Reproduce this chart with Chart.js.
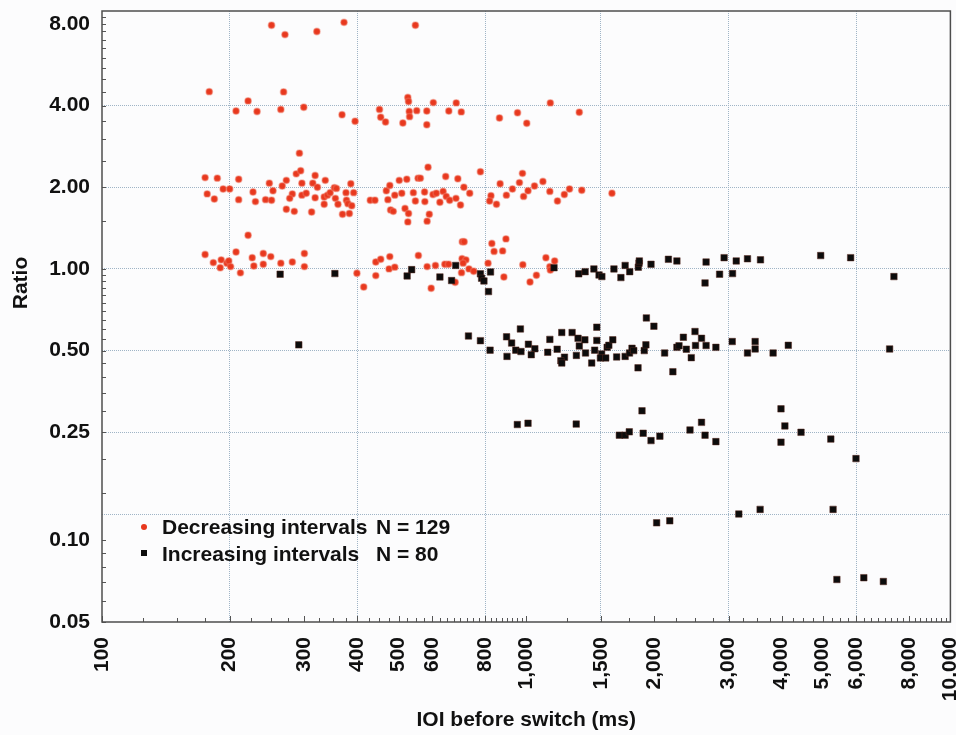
<!DOCTYPE html>
<html>
<head>
<meta charset="utf-8">
<script src="https://cdn.jsdelivr.net/npm/chart.js@4.4.1/dist/chart.umd.min.js"></script>
<style>
  html, body { margin: 0; padding: 0; background: #fcfcfd; }
  #wrap { width: 956px; height: 735px; }
</style>
</head>
<body>
<div id="wrap"><canvas id="chart" width="956" height="735"></canvas></div>
<script>
// IOI before switch (ms) / ratio
const decX = [
  251, 270, 321, 372, 548,
  179, 221, 268, 207, 232, 264, 299, 368, 395, 451, 454, 466, 512, 526, 528,
  530, 531, 552, 583, 583, 604, 657, 684, 703, 865, 954, 1003, 1140, 1334,
  292, 287, 294, 318, 175, 187, 210, 248, 272, 296, 314, 266, 193, 200, 177,
  184, 210, 227, 230, 243, 251, 253, 281, 277, 296, 303, 318, 322, 272, 284,
  312, 221,
  336, 334, 334, 340, 345, 353, 357, 355, 360, 369, 376, 377, 380, 383, 386,
  388, 392, 429, 440, 468, 472, 477, 479, 486, 490, 502, 509, 518, 523, 526,
  528, 542, 548, 556, 563, 576, 577, 587, 591, 584, 603, 614, 626, 637, 646,
  648, 660, 683, 690, 700, 713, 736, 780, 826, 820, 851, 868, 898, 928, 964,
  980, 986, 1010, 1046, 1095, 1137, 1185, 1230, 1265, 1352, 1593,
  175, 183, 191, 190, 197, 199, 201, 207, 212, 226, 228, 240, 240, 250, 264,
  281, 300, 300,
  399, 414, 442, 454, 442, 477, 475, 490, 557, 584, 597, 611, 643, 656, 680,
  707, 714, 706, 721, 710, 704, 733, 752, 813, 830, 840, 880, 896, 886, 982,
  1021, 1057, 1113, 1137, 1140, 1167
];
const decY = [
  7.9, 7.3, 7.5, 8.1, 7.9,
  4.5, 4.16, 4.49, 3.82, 3.80, 3.87, 3.94, 3.70, 3.50, 3.87, 3.62, 3.48, 3.45, 4.28, 4.14,
  3.80, 3.64, 3.83, 3.82, 3.40, 4.10, 3.82, 4.09, 3.79, 3.60, 3.76, 3.44, 4.09, 3.78,
  2.67, 2.24, 2.30, 2.21, 2.17, 2.16, 2.14, 2.07, 2.12, 2.07, 2.07, 2.02, 1.97, 1.97, 1.89,
  1.81, 1.80, 1.92, 1.77, 1.80, 1.79, 1.94, 1.89, 1.82, 1.87, 1.90, 1.83, 2.0, 1.66, 1.63,
  1.62, 1.33,
  2.12, 1.84, 1.73, 1.87, 1.91, 1.99, 1.98, 1.82, 1.73, 1.59, 1.91, 1.79, 1.74, 1.60, 2.06,
  1.71, 1.91, 1.79, 1.79, 1.94, 1.80, 2.03, 1.65, 1.63, 1.87, 2.12, 1.90, 1.67, 2.14, 1.49,
  1.60, 1.91, 1.78, 2.16, 2.16, 1.92, 1.77, 2.37, 1.59, 1.50, 1.88, 1.90, 1.76, 1.93, 2.19,
  1.85, 1.79, 1.82, 2.15, 1.72, 2.00, 1.90, 2.28, 1.86, 1.78, 1.73, 2.06, 1.87, 1.97, 2.08,
  2.25, 1.85, 1.94, 2.02, 2.10, 1.93, 1.78, 1.88, 1.97, 1.95, 1.90,
  1.13, 1.055, 1.08, 1.01, 1.05, 1.07, 1.02, 1.155, 0.967, 1.10, 1.025, 1.14, 1.04, 1.11, 1.05,
  1.06, 1.14, 1.02,
  0.964, 0.858, 1.06, 1.085, 0.945, 1.11, 1.00, 1.015, 1.12, 1.02, 0.849, 1.03, 1.04, 1.04, 0.893,
  1.26, 1.26, 1.09, 1.08, 1.05, 0.969, 1.00, 0.98, 1.05, 1.24, 1.16, 1.165, 1.29, 0.934, 1.037,
  0.895, 0.948, 1.10, 1.02, 0.99, 1.07
];
const incX = [
  263, 354, 524, 537, 626, 667, 682, 780, 785, 795, 824, 815, 1163, 1330, 1377,
  1444, 1485, 1508, 1610, 1672, 1711, 1754, 1838, 1845, 1848, 1969, 2164, 2266, 2640, 2655,
  2857, 2928, 3065, 3127, 3324, 3567, 4946, 5819, 7360,
  291, 731, 780, 822, 899, 969, 924, 945, 972, 901, 1012, 1048, 1028, 1137, 1124,
  1183, 1213, 1231, 1207, 1213, 1283, 1325, 1334, 1313, 1375, 1380, 1467, 1467, 1450, 1427,
  1506, 1496, 1540, 1552, 1566, 1600, 1634, 1711, 1752, 1776, 1793, 1835, 1898, 1915, 1920,
  2000, 2120, 2217, 2266, 2292, 2347, 2385, 2450, 2500, 2507, 2590, 2655, 2800, 3060, 3324,
  3465, 3465, 3820, 4148, 7190,
  953, 1010, 1312, 1875, 1658, 1711, 1750, 1887, 1969, 2066, 2433, 2590, 2640, 2800, 3987,
  4072, 3987, 4445, 5225, 5990,
  2030, 2180, 3171, 3560, 5290, 5400, 6250, 6950
];
const incY = [
  0.956, 0.961, 0.942, 0.994, 0.934, 0.906, 1.03, 0.959, 0.924, 0.903, 0.975, 0.825, 1.01, 0.959, 0.977,
  1.00, 0.95, 0.937, 1.0, 0.929, 1.03, 0.977, 1.015, 1.05, 1.07, 1.04, 1.085, 1.07, 0.888, 1.06,
  0.956, 1.10, 0.961, 1.07, 1.09, 1.08, 1.12, 1.10, 0.937,
  0.525, 0.566, 0.544, 0.502, 0.562, 0.601, 0.533, 0.502, 0.496, 0.476, 0.528, 0.508, 0.483, 0.55, 0.493,
  0.506, 0.583, 0.473, 0.459, 0.45, 0.583, 0.555, 0.52, 0.48, 0.548, 0.49, 0.61, 0.545, 0.502, 0.45,
  0.486, 0.47, 0.47, 0.514, 0.523, 0.548, 0.474, 0.476, 0.49, 0.51, 0.50, 0.432, 0.50, 0.525, 0.66,
  0.615, 0.49, 0.418, 0.514, 0.521, 0.56, 0.506, 0.471, 0.588, 0.522, 0.555, 0.522, 0.514, 0.540, 0.49,
  0.54, 0.507, 0.49, 0.523, 0.507,
  0.267, 0.27, 0.268, 0.30, 0.244, 0.244, 0.251, 0.248, 0.233, 0.242, 0.255, 0.272, 0.244, 0.231, 0.305,
  0.264, 0.23, 0.25, 0.236, 0.20,
  0.116, 0.118, 0.125, 0.13, 0.13, 0.0717, 0.0728, 0.0705
];

const xTicks = [100, 200, 300, 400, 500, 600, 800, 1000, 1500, 2000, 3000, 4000, 5000, 6000, 8000, 10000];
const xGrid = [200, 400, 800, 1500, 3000, 6000];
const yTicks = [0.05, 0.1, 0.125, 0.25, 0.5, 1, 2, 4, 8];
const yLabels = [0.05, 0.1, 0.25, 0.5, 1, 2, 4, 8];
const yGrid = [0.125, 0.25, 0.5, 1, 2, 4];

const legendItems = [
  { text: 'Decreasing intervals', n: 'N = 129' },
  { text: 'Increasing intervals', n: 'N = 80' }
];
const yTitle = 'Ratio';

const FONT = '"Liberation Sans", Arial, Helvetica, sans-serif';
const RED = '#e8381e';
const BLACK = '#0c0c0c';
const GRID = '#9fb4c6';

function pairs(xs, ys) {
  return xs.map((x, i) => ({ x: x, y: ys[i] }));
}

// small inward ticks along the left and bottom spines
function minorList(parts) {
  const out = [];
  parts.forEach(function (p) {
    for (let v = p[0]; v <= p[1] + 1e-9; v += p[2]) out.push(v);
  });
  return out;
}
const xMinor = minorList([[100, 1000, 25], [1000, 10000, 250]]);
const yMinor = minorList([[0.05, 0.1, 0.01], [0.1, 1, 0.05], [1, 9, 0.5]]);

const paperPlugin = {
  id: 'paper',
  beforeDraw(chart) {
    const c = chart.ctx;
    c.save();
    c.fillStyle = '#fcfcfd';
    c.fillRect(0, 0, chart.width, chart.height);
    c.restore();
  },
  afterDatasetsDraw(chart) {
    const c = chart.ctx;
    const a = chart.chartArea;
    const xs = chart.scales.x;
    const ys = chart.scales.y;
    c.save();
    c.strokeStyle = '#555';
    c.lineWidth = 1;
    c.beginPath();
    xMinor.forEach(function (v) {
      const px = Math.round(xs.getPixelForValue(v)) + 0.5;
      const len = xTicks.includes(v) ? 6 : 4;
      c.moveTo(px, a.bottom);
      c.lineTo(px, a.bottom - len);
    });
    yMinor.forEach(function (v) {
      const py = Math.round(ys.getPixelForValue(v)) + 0.5;
      if (py < a.top) return;
      c.moveTo(a.left, py);
      c.lineTo(a.left + 4, py);
    });
    c.stroke();
    c.strokeStyle = '#4d4d4d';
    c.lineWidth = 1.5;
    c.strokeRect(a.left, a.top, a.right - a.left, a.bottom - a.top);

    // y axis title, sits above the middle of the axis
    c.fillStyle = '#111';
    c.font = 'bold 21px ' + FONT;
    c.textAlign = 'center';
    c.textBaseline = 'middle';
    c.save();
    c.translate(21, 283);
    c.rotate(-Math.PI / 2);
    c.fillText(yTitle, 0, 0);
    c.restore();

    // legend
    const lx = a.left + 42;
    const rows = [a.top + 517, a.top + 544];
    legendItems.forEach(function (it, i) {
      const y = rows[i];
      if (i === 0) {
        c.fillStyle = RED;
        c.beginPath();
        c.arc(lx, y - 1, 3, 0, Math.PI * 2);
        c.fill();
      } else {
        c.fillStyle = BLACK;
        c.fillRect(lx - 3, y - 5, 6, 6);
      }
      c.fillStyle = '#111';
      c.textAlign = 'left';
      c.fillText(it.text, lx + 18, y);
      c.fillText(it.n, a.left + 274, y);
    });
    c.restore();
  }
};

const ctx = document.getElementById('chart').getContext('2d');

new Chart(ctx, {
  type: 'scatter',
  data: {
    datasets: [
      {
        label: legendItems[0].text,
        data: pairs(decX, decY),
        pointStyle: 'circle',
        pointRadius: 3.2,
        backgroundColor: RED,
        borderColor: 'rgba(240,120,100,0.45)',
        borderWidth: 1.5,
        order: 2
      },
      {
        label: legendItems[1].text,
        data: pairs(incX, incY),
        pointStyle: 'rect',
        pointRadius: 4.6,
        backgroundColor: BLACK,
        borderColor: 'rgba(90,40,30,0.5)',
        borderWidth: 1,
        order: 1
      }
    ]
  },
  options: {
    responsive: false,
    animation: false,
    layout: { padding: { top: 11, right: 4, left: 0, bottom: 0 } },
    plugins: {
      legend: { display: false },
      tooltip: { enabled: false }
    },
    scales: {
      x: {
        type: 'logarithmic',
        min: 100,
        max: 10000,
        afterBuildTicks: function (s) {
          s.ticks = xTicks.map(function (v) { return { value: v }; });
        },
        afterFit: function (s) {
          s.height = 113;
          s.paddingLeft = 0;
          s.paddingRight = 0;
        },
        ticks: {
          autoSkip: false,
          minRotation: 90,
          maxRotation: 90,
          padding: 15,
          color: '#111',
          font: { family: FONT, size: 21, weight: 'bold' },
          callback: function (v) { return Number(v).toLocaleString('en-US'); }
        },
        grid: {
          drawTicks: false,
          lineWidth: 1,
          color: function (c) {
            return c.tick && xGrid.includes(c.tick.value) ? GRID : 'rgba(0,0,0,0)';
          }
        },
        border: { display: false, dash: [1, 1] },
        title: {
          display: true,
          text: 'IOI before switch (ms)',
          color: '#111',
          font: { family: FONT, size: 21, weight: 'bold' },
          padding: { top: 0, bottom: 2 }
        }
      },
      y: {
        type: 'logarithmic',
        min: 0.05,
        max: 8.92,
        afterBuildTicks: function (s) {
          s.ticks = yTicks.map(function (v) { return { value: v }; });
        },
        afterFit: function (s) {
          s.width = 102;
          s.paddingTop = 0;
          s.paddingBottom = 0;
        },
        ticks: {
          autoSkip: false,
          padding: 12,
          color: '#111',
          font: { family: FONT, size: 21, weight: 'bold' },
          callback: function (v) {
            return yLabels.includes(v) ? Number(v).toFixed(2) : '';
          }
        },
        grid: {
          drawTicks: false,
          lineWidth: 1,
          color: function (c) {
            return c.tick && yGrid.includes(c.tick.value) ? GRID : 'rgba(0,0,0,0)';
          }
        },
        border: { display: false, dash: [1, 1] }
      }
    }
  },
  plugins: [paperPlugin]
});
</script>
</body>
</html>
